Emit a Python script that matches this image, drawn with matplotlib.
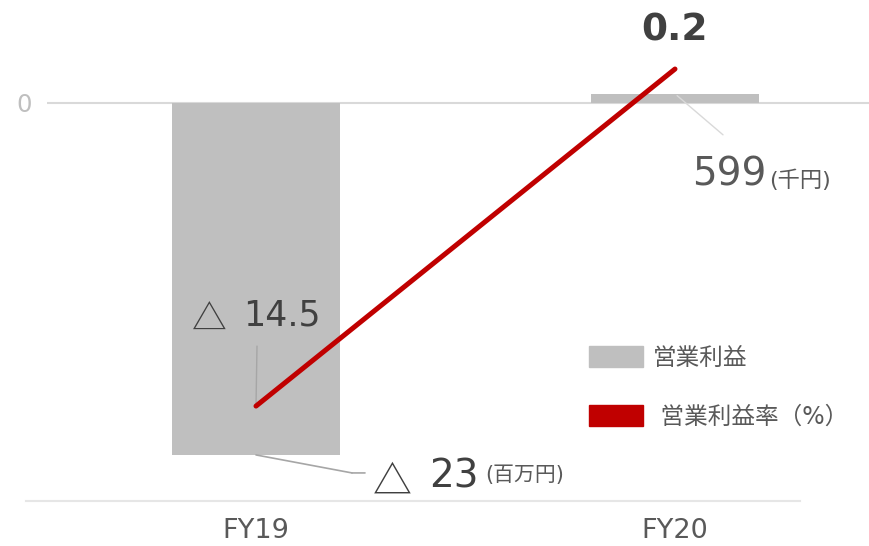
import matplotlib
matplotlib.use('Agg')
import matplotlib.pyplot as plt
from matplotlib.patches import Patch
from matplotlib.transforms import offset_copy

plt.rcParams['font.family'] = ['DejaVu Sans', 'Noto Sans CJK JP']
CJK = ['Noto Sans CJK JP', 'DejaVu Sans']

# データ
years = ['FY19', 'FY20']
profit = [-23, 0.599]          # 営業利益（百万円）
margin = [-14.5, 0.2]          # 営業利益率（%）

W, H = 870, 546
fig = plt.figure(figsize=(W / 100, H / 100), dpi=100)
left, bottom = 47, 501
ax = fig.add_axes([left / W, 1 - bottom / H, (W - left) / W, bottom / H])
ax2 = ax.twinx()

x = range(len(years))
ax.bar(x, profit, width=0.4, color='#bfbfbf', zorder=2)
ax.axhline(0, color='#d9d9d9', lw=1.5, zorder=1)
ax.plot([-0.0255, 0.915], [0, 0], transform=ax.transAxes, color='#e6e6e6',
        lw=1.5, clip_on=False)

ax2.plot(x, margin, color='#c00000', lw=3.6, solid_capstyle='round', zorder=5)

ax.set_xlim(-0.4988, 1.4654)
ax.set_ylim(-26.01, 6.73)
ax2.set_ylim(-18.64, 3.21)

for a in (ax, ax2):
    for s in a.spines.values():
        s.set_visible(False)
ax2.set_yticks([])
ax.set_yticks([0])
ax.set_yticklabels(['0'], fontsize=17.5, color='#bfbfbf')
ax.tick_params(axis='y', length=0, pad=11)
ax.set_xticks(list(x))
ax.set_xticklabels(years, fontsize=19.5, color='#595959')
ax.tick_params(axis='x', length=0, pad=12)

dark = '#404040'
mid = '#595959'
lead = '#a6a6a6'

# 営業利益率ラベル
ax2.annotate('△', xy=(0, margin[0]), xytext=(-47, 85), textcoords='offset pixels',
             ha='center', va='center', fontsize=25, color=dark, family=CJK)
ax2.annotate('14.5', xy=(0, margin[0]), xytext=(-13, 91), textcoords='offset pixels',
             ha='left', va='center', fontsize=25, color=dark)
ax2.annotate('', xy=(0, margin[0]), xytext=(1, 60), textcoords='offset pixels',
             arrowprops=dict(arrowstyle='-', color=lead, lw=1, shrinkA=0, shrinkB=2))
ax2.annotate('0.2', xy=(1, margin[1]), xytext=(0, 39), textcoords='offset pixels',
             ha='center', va='center', fontsize=27, fontweight='bold', color=dark)

# 営業利益ラベル
ax.annotate('△', xy=(0, profit[0]), xytext=(136, -28), textcoords='offset pixels',
            ha='center', va='center', fontsize=28, color=dark, family=CJK)
ax.annotate('23', xy=(0, profit[0]), xytext=(173, -22), textcoords='offset pixels',
            ha='left', va='center', fontsize=28, color=dark)
ax.annotate('(百万円)', xy=(0, profit[0]), xytext=(229, -20), textcoords='offset pixels',
            ha='left', va='center', fontsize=15, color=mid)
ax.annotate('', xy=(0, profit[0]), xytext=(96, -18), textcoords='offset pixels',
            arrowprops=dict(arrowstyle='-', color=lead, lw=1.2, shrinkA=0, shrinkB=0))
ax.annotate('', xy=(0, profit[0]),
            xycoords=offset_copy(ax.transData, fig=fig, x=96, y=-18, units='dots'),
            xytext=(13, 0), textcoords='offset pixels',
            arrowprops=dict(arrowstyle='-', color=lead, lw=1.2, shrinkA=0, shrinkB=0))

ax.annotate('599', xy=(1, profit[1]), xytext=(17, -81), textcoords='offset pixels',
            ha='left', va='center', fontsize=28, color=mid)
ax.annotate('(千円)', xy=(1, profit[1]), xytext=(94, -86), textcoords='offset pixels',
            ha='left', va='center', fontsize=16, color=mid)
ax.annotate('', xy=(1, profit[1]), xytext=(48, -41), textcoords='offset pixels',
            arrowprops=dict(arrowstyle='-', color='#d9d9d9', lw=1, shrinkA=0, shrinkB=2))

handles = [Patch(color='#bfbfbf'), Patch(color='#c00000')]
leg = ax.legend(handles, ['営業利益', ' 営業利益率（%）'], loc='upper left',
                bbox_to_anchor=((589 - left) / (W - left), 1 - 346 / bottom),
                frameon=False, fontsize=17, handlelength=2.3, handleheight=1.0,
                handletextpad=0.4, labelspacing=1.45, borderpad=0, borderaxespad=0)
for t in leg.get_texts():
    t.set_color(mid)

fig.savefig('out.png', dpi=100)
